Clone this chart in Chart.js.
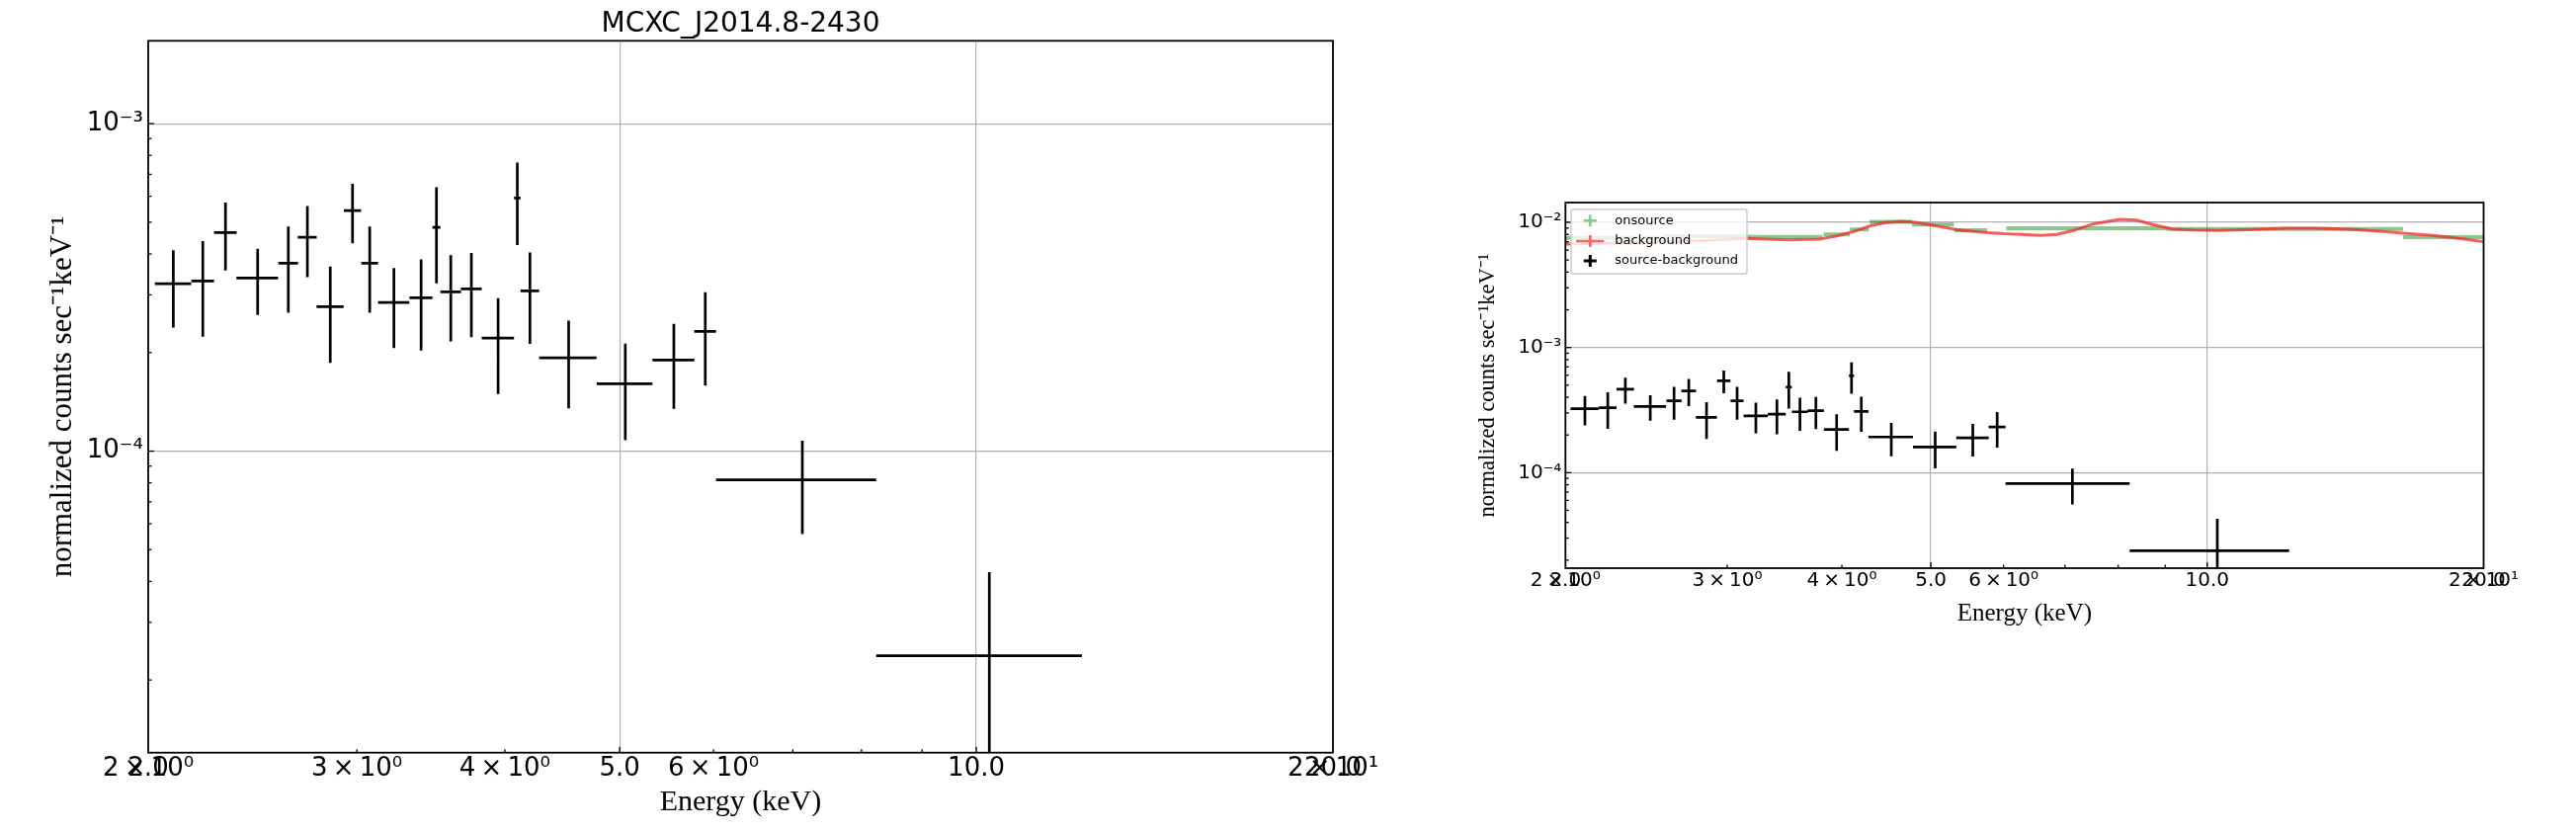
<!DOCTYPE html>
<html><head><meta charset="utf-8">
<script src="https://cdn.jsdelivr.net/npm/chart.js@4.4.0/dist/chart.umd.min.js"></script>
<style>
html,body{margin:0;padding:0;background:#fff;width:2607px;height:842px;overflow:hidden}
canvas{position:absolute;top:0}
#c1{left:0}
#c2{left:1400px}
</style></head><body>
<canvas id="c1" width="1400" height="842"></canvas>
<canvas id="c2" width="1207" height="842"></canvas>
<script>
// ---- source-background spectrum (black crosses) ----
const sourceEnergy    = [2.100, 2.224, 2.324, 2.474, 2.626, 2.725, 2.849, 2.975, 3.076, 3.224, 3.399, 3.502, 3.601, 3.748, 3.948, 4.098, 4.200, 4.528, 5.055, 5.555, 5.905, 7.131, 10.256];
const sourceEnergyErr = [0.074, 0.049, 0.051, 0.100, 0.050, 0.050, 0.075, 0.050, 0.050, 0.098, 0.076, 0.027, 0.072, 0.076, 0.124, 0.026, 0.076, 0.252, 0.274, 0.226, 0.125, 1.101, 2.024];
const sourceRate      = [3.245e-4, 3.306e-4, 4.648e-4, 3.376e-4, 3.746e-4, 4.498e-4, 2.760e-4, 5.427e-4, 3.746e-4, 2.844e-4, 2.938e-4, 4.823e-4, 3.063e-4, 3.128e-4, 2.213e-4, 5.930e-4, 3.084e-4, 1.926e-4, 1.605e-4, 1.896e-4, 2.319e-4, 8.17e-5, 2.371e-5];
const sourceRateErr   = [0.86e-4, 1.07e-4, 1.09e-4, 0.77e-4, 1.10e-4, 1.10e-4, 0.90e-4, 1.12e-4, 1.10e-4, 0.78e-4, 0.91e-4, 1.57e-4, 0.90e-4, 0.90e-4, 0.72e-4, 1.67e-4, 0.96e-4, 0.575e-4, 0.525e-4, 0.55e-4, 0.734e-4, 2.59e-5, 1.90e-5];

// ---- onsource spectrum (green steps) ----
const onsourceEnergy    = [2.28, 2.86, 3.485, 3.95, 4.18, 4.53, 5.035, 5.53, 7.525, 12.675, 18.67];
const onsourceEnergyErr = [0.28, 0.30, 0.325, 0.13, 0.10, 0.24, 0.265, 0.23, 1.485, 3.665, 2.33];
const onsourceRate      = [7.5e-3, 7.75e-3, 7.65e-3, 8.0e-3, 8.76e-3, 1.01e-2, 9.6e-3, 8.65e-3, 8.97e-3, 8.85e-3, 7.6e-3];

// ---- background spectrum (red curve) ----
const backgroundEnergy = [2.00, 2.30, 2.60, 2.90, 3.15, 3.30, 3.50, 3.78, 3.95, 4.11, 4.29, 4.46, 4.65, 4.81, 5.01, 5.36, 5.72, 6.00, 6.27, 6.58, 6.86, 7.15, 7.51, 8.03, 8.37, 8.72, 9.16, 9.63, 10.28, 11.17, 12.13, 13.18, 14.31, 15.55, 16.34, 17.6, 18.8, 20.0];
const backgroundRate   = [6.70e-3, 6.85e-3, 7.00e-3, 7.20e-3, 7.45e-3, 7.35e-3, 7.25e-3, 7.35e-3, 7.80e-3, 8.40e-3, 9.35e-3, 9.95e-3, 1.02e-2, 1.00e-2, 9.50e-3, 8.70e-3, 8.30e-3, 8.10e-3, 8.00e-3, 7.85e-3, 8.00e-3, 8.60e-3, 9.70e-3, 1.056e-2, 1.04e-2, 9.60e-3, 8.85e-3, 8.70e-3, 8.60e-3, 8.75e-3, 8.95e-3, 8.95e-3, 8.80e-3, 8.45e-3, 8.20e-3, 7.85e-3, 7.45e-3, 7.00e-3];

// ---- ticks ----
const xTickValues  = [2, 3, 4, 5, 6, 7, 8, 9, 10, 20];
const xTickLabels  = ['2\u2009×\u200910⁰', '3\u2009×\u200910⁰', '4\u2009×\u200910⁰', '5.0', '6\u2009×\u200910⁰', '', '', '', '10.0', '2\u2009×\u200910¹'];
const xTickOverlay = ['2.0', '', '', '', '', '', '', '', '', '20.0'];
const xGridValues  = [5, 10];

const yTickValuesLeft = [2e-5, 3e-5, 4e-5, 5e-5, 6e-5, 7e-5, 8e-5, 9e-5, 1e-4, 2e-4, 3e-4, 4e-4, 5e-4, 6e-4, 7e-4, 8e-4, 9e-4, 1e-3];
const yTickLabelsLeft = ['', '', '', '', '', '', '', '', '10⁻⁴', '', '', '', '', '', '', '', '', '10⁻³'];
const yTickValuesRight = [2e-5, 3e-5, 4e-5, 5e-5, 6e-5, 7e-5, 8e-5, 9e-5, 1e-4, 2e-4, 3e-4, 4e-4, 5e-4, 6e-4, 7e-4, 8e-4, 9e-4, 1e-3, 2e-3, 3e-3, 4e-3, 5e-3, 6e-3, 7e-3, 8e-3, 9e-3, 1e-2];
const yTickLabelsRight = ['', '', '', '', '', '', '', '', '10⁻⁴', '', '', '', '', '', '', '', '', '10⁻³', '', '', '', '', '', '', '', '', '10⁻²'];
const yGridValues = [1e-4, 1e-3, 1e-2];

// build cross (error bar) segments, separated by gaps
function crossSegments(xs, dxs, ys, dys) {
  const pts = [];
  for (let i = 0; i < xs.length; i++) {
    pts.push({x: xs[i] - dxs[i], y: ys[i]}, {x: xs[i] + dxs[i], y: ys[i]}, {x: xs[i], y: null});
    if (dys) pts.push({x: xs[i], y: ys[i] - dys[i]}, {x: xs[i], y: ys[i] + dys[i]}, {x: xs[i], y: null});
  }
  return pts;
}
function isIn(arr, v) { return arr.some(a => Math.abs(a - v) / a < 1e-6); }

const frameTicks = {
  id: 'frameTicks',
  afterDatasetsDraw(chart) {
    const {ctx, chartArea: a, scales: {x, y}} = chart;
    ctx.save();
    ctx.strokeStyle = '#000';
    ctx.lineWidth = 1.3;
    x.ticks.forEach(t => {
      if (t.value <= x.min || t.value >= x.max) return;
      const px = x.getPixelForValue(t.value);
      const L = isIn(xGridValues, t.value) ? 6 : 3.5;
      ctx.beginPath(); ctx.moveTo(px, a.bottom); ctx.lineTo(px, a.bottom - L); ctx.stroke();
    });
    y.ticks.forEach(t => {
      if (t.value <= y.min || t.value >= y.max) return;
      const py = y.getPixelForValue(t.value);
      const L = isIn(yGridValues, t.value) ? 6 : 3.5;
      ctx.beginPath(); ctx.moveTo(a.left, py); ctx.lineTo(a.left + L, py); ctx.stroke();
    });
    ctx.lineWidth = 1.8;
    ctx.strokeRect(a.left, a.top, a.right - a.left, a.bottom - a.top);
    // overlapping second tick labels (2.0 / 20.0)
    const f = x.options.ticks.font;
    ctx.font = f.size + 'px ' + f.family;
    ctx.fillStyle = '#000';
    ctx.textAlign = 'center';
    ctx.textBaseline = 'middle';
    const ty = x.top + x.options.ticks.padding + f.size * (f.lineHeight || 1.2) / 2;
    xTickValues.forEach((v, i) => {
      if (xTickOverlay[i]) ctx.fillText(xTickOverlay[i], x.getPixelForValue(v), ty);
    });
    ctx.restore();
  }
};

const legendBox = {
  id: 'legendBox',
  afterDraw(chart) {
    if (!chart.options.plugins.legendBox || !chart.options.plugins.legendBox.show) return;
    const {ctx, chartArea: a} = chart;
    const x0 = a.left + 5.7, y0 = a.top + 6.7, w = 178, h = 65.6;
    ctx.save();
    ctx.beginPath();
    ctx.roundRect(x0, y0, w, h, 3);
    ctx.fillStyle = 'rgba(255,255,255,0.8)';
    ctx.fill();
    ctx.strokeStyle = '#cccccc';
    ctx.lineWidth = 1.5;
    ctx.stroke();
    const items = [
      {label: 'onsource', color: 'rgba(0,128,0,0.45)', line: false, lw: 2.5, y: 18.3},
      {label: 'background', color: 'rgba(240,40,40,0.7)', line: true, lw: 2.5, y: 39},
      {label: 'source-background', color: '#000', line: false, lw: 3, y: 59}
    ];
    const mx = a.left + 25;
    items.forEach(it => {
      const yy = a.top + it.y;
      ctx.strokeStyle = it.color;
      ctx.lineWidth = it.lw;
      ctx.beginPath();
      if (it.line) { ctx.moveTo(a.left + 10.7, yy); ctx.lineTo(a.left + 39, yy); }
      else { ctx.moveTo(mx - 6.5, yy); ctx.lineTo(mx + 6.5, yy); }
      ctx.moveTo(mx, yy - 6); ctx.lineTo(mx, yy + 6);
      ctx.stroke();
      ctx.fillStyle = '#000';
      ctx.font = '13px DejaVu Sans';
      ctx.textAlign = 'left';
      ctx.textBaseline = 'middle';
      ctx.fillText(it.label, a.left + 50, yy);
    });
    ctx.restore();
  }
};

function makeScales(o) {
  return {
    x: {
      type: 'logarithmic', min: 2, max: 20, bounds: 'data',
      afterBuildTicks: s => { s.ticks = xTickValues.map(v => ({value: v})); },
      afterFit: s => { s.height = o.xH; },
      ticks: {autoSkip: false, maxRotation: 0, minRotation: 0, padding: o.xPad, color: '#000',
              font: {family: 'DejaVu Sans', size: o.tickSize, lineHeight: 1.2},
              callback: (v, i) => xTickLabels[i]},
      grid: {drawTicks: false, lineWidth: 1.2,
             color: c => (c.tick && isIn(xGridValues, c.tick.value)) ? '#b0b0b0' : 'rgba(0,0,0,0)'},
      border: {display: false},
      title: {display: true, text: 'Energy (keV)', color: '#000',
              font: {family: 'Liberation Serif', size: o.xLabelSize, lineHeight: 1.2},
              padding: {top: 0, bottom: o.xTitlePad}}
    },
    y: {
      type: 'logarithmic', min: o.yMin, max: o.yMax, bounds: 'data',
      afterBuildTicks: s => { s.ticks = o.yTicks.map(v => ({value: v})); },
      afterFit: s => { s.width = o.yW; },
      ticks: {autoSkip: false, padding: o.yPad, color: '#000',
              font: {family: 'DejaVu Sans', size: o.tickSize, lineHeight: 1.2},
              callback: (v, i) => o.yLabels[i]},
      grid: {drawTicks: false, lineWidth: 1.2,
             color: c => (c.tick && isIn(yGridValues, c.tick.value)) ? '#b0b0b0' : 'rgba(0,0,0,0)'},
      border: {display: false},
      title: {display: true, text: 'normalized counts sec⁻¹keV⁻¹', color: '#000',
              font: {family: 'Liberation Serif', size: o.yLabelSize, lineHeight: 1.2},
              padding: {top: o.yTitlePad, bottom: 0}}
    }
  };
}

const blackCrosses = () => ({
  label: 'source-background',
  data: crossSegments(sourceEnergy, sourceEnergyErr, sourceRate, sourceRateErr),
  borderColor: '#000', borderWidth: 2.7, pointRadius: 0, spanGaps: false, tension: 0, borderCapStyle: 'butt'
});

// left chart
new Chart(document.getElementById('c1'), {
  type: 'line',
  data: {datasets: [blackCrosses()]},
  options: {
    responsive: false, animation: false, devicePixelRatio: 1, maintainAspectRatio: false,
    layout: {padding: {left: 0, right: 51, top: 0, bottom: 0}},
    plugins: {
      legend: {display: false}, tooltip: {enabled: false},
      title: {display: true, fullSize: false, text: 'MCXC_J2014.8-2430', color: '#000',
              font: {family: 'DejaVu Sans', size: 28, weight: 'normal', lineHeight: 1.2},
              padding: {top: 7.7, bottom: 0}}
    },
    scales: makeScales({xH: 80.3, xPad: 1, tickSize: 26, xLabelSize: 30, yLabelSize: 31, xTitlePad: 12,
                        yMin: 1.2e-5, yMax: 1.79e-3, yTicks: yTickValuesLeft, yLabels: yTickLabelsLeft,
                        yW: 150, yPad: 5, yTitlePad: 45})
  },
  plugins: [frameTicks]
});

// right chart
new Chart(document.getElementById('c2'), {
  type: 'line',
  data: {datasets: [
    blackCrosses(),
    {label: 'background', data: backgroundEnergy.map((e, i) => ({x: e, y: backgroundRate[i]})),
     borderColor: 'rgba(240,40,40,0.75)', borderWidth: 3, pointRadius: 0, tension: 0},
    {label: 'onsource', data: crossSegments(onsourceEnergy, onsourceEnergyErr, onsourceRate, null),
     borderColor: 'rgba(0,128,0,0.45)', borderWidth: 4, pointRadius: 0, spanGaps: false, tension: 0, borderCapStyle: 'butt'}
  ]},
  options: {
    responsive: false, animation: false, devicePixelRatio: 1, maintainAspectRatio: false,
    layout: {padding: {left: 0, right: 93.5, top: 205, bottom: 202}},
    plugins: {legend: {display: false}, tooltip: {enabled: false}, legendBox: {show: true}},
    scales: makeScales({xH: 65, xPad: 0.6, tickSize: 20, xLabelSize: 25, yLabelSize: 22.5, xTitlePad: 4,
                        yMin: 1.724e-5, yMax: 1.439e-2, yTicks: yTickValuesRight, yLabels: yTickLabelsRight,
                        yW: 184.3, yPad: 4, yTitlePad: 93})
  },
  plugins: [frameTicks, legendBox]
});
</script>
</body></html>
